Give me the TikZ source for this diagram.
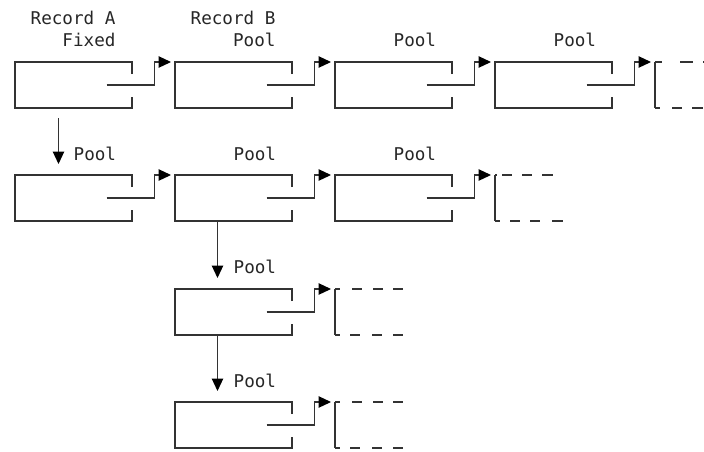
\documentclass[tikz,border=0pt]{standalone}
\usepackage{fontspec}
\setmonofont{DejaVu Sans Mono}
\usetikzlibrary{arrows.meta,calc}
\begin{document}
\begin{tikzpicture}[x=1pt,y=-1pt,
  rec/.style={minimum width=117pt,minimum height=46pt,inner sep=0pt,outer sep=0pt,anchor=north west},
  drec/.style={minimum width=68pt,minimum height=46pt,inner sep=0pt,outer sep=0pt,anchor=north west},
  lbl/.style={font=\ttfamily\fontsize{17.6}{20}\selectfont,inner sep=0pt,anchor=base west,text=black!85},
  ln/.style={line width=1.15pt,draw=black!80},
  tipstyle/.style={-{Triangle[length=12.5pt,width=11.5pt,color=black]}},
  ptr/.style={ln,tipstyle,shorten >=4pt},
  downarr/.style={ln,tipstyle},
  boxline/.style={ln}
]
\useasboundingbox (0,0) rectangle (704,451);
% solid record boxes
\node[rec] (a1) at (15,62) {};
\node[rec] (a2) at (175,62) {};
\node[rec] (a3) at (335,62) {};
\node[rec] (a4) at (495,62) {};
\node[drec] (a5) at (655,62) {};
\node[rec] (b1) at (15,175) {};
\node[rec] (b2) at (175,175) {};
\node[rec] (b3) at (335,175) {};
\node[drec] (b4) at (495,175) {};
\node[rec] (c2) at (175,289) {};
\node[drec] (c3) at (335,289) {};
\node[rec] (d2) at (175,402) {};
\node[drec] (d3) at (335,402) {};
% outlines
\foreach \n in {a1,a2,a3,a4,b1,b2,b3,c2,d2}{
  \draw[boxline] ([yshift=-12pt]\n.north east) -- (\n.north east) -- (\n.north west)
     -- (\n.south west) -- (\n.south east) -- ([yshift=11pt]\n.south east);
}
% dashed continuation boxes
\foreach \n in {a5,b4,c3,d3}{
  \draw[ln] (\n.north west) -- (\n.south west);
}
\draw[ln,dash pattern=on 7pt off 18pt on 13pt off 10pt on 10pt off 10pt] (a5.north west) -- ++(49,0);
\draw[ln,dash pattern=on 5pt off 12pt on 10pt off 10pt on 11pt off 20pt] (a5.south west) -- ++(49,0);
\draw[ln,dash pattern=on 2pt off 5pt on 10pt off 10pt on 10pt off 10pt on 11pt off 50pt] (b4.north west) -- ++(58,0);
\draw[ln,dash pattern=on 5pt off 10pt on 10pt off 10pt on 10pt off 12pt on 11pt off 50pt] (b4.south west) -- ++(68,0);
\foreach \n in {c3,d3}{
  \draw[ln,dash pattern=on 5pt off 12pt on 10pt off 11pt on 10pt off 10pt on 10pt off 50pt] (\n.north west) -- ++(68,0);
  \draw[ln,dash pattern=on 5pt off 10pt on 10pt off 12pt on 10pt off 11pt on 10pt off 50pt] (\n.south west) -- ++(68,0);
}
% pointers to next record
\foreach \x/\y in {a1/a2,a2/a3,a3/a4,a4/a5,b1/b2,b2/b3,b3/b4,c2/c3,d2/d3}{
  \draw[ptr] ([xshift=-25.5pt]\x.east) -| ([xshift=22.5pt]\x.north east) -- (\y.north west);
}
% down pointers
\draw[downarr] ([xshift=43.5pt,yshift=-10pt]a1.south west) -- ([xshift=43.5pt,yshift=11pt]b1.north west);
\draw[downarr] ([xshift=42.5pt]b2.south west) -- ([xshift=42.5pt,yshift=11pt]c2.north west);
\draw[downarr] ([xshift=42.5pt]c2.south west) -- ([xshift=42.5pt,yshift=11pt]d2.north west);
% labels
\node[lbl] (tA) at (30.5,24) {Record A};
\node[lbl,anchor=base east] (tAf) at ([yshift=-22.5pt]tA.base east) {Fixed};
\node[lbl] (tB) at (190.5,24) {Record B};
\node[lbl,anchor=base east] (tBp) at ([yshift=-22.5pt]tB.base east) {Pool};
\node[lbl] (pa3) at (393.5,46.5) {Pool};
\node[lbl] (pa4) at (553.5,46.5) {Pool};
\node[lbl] (pb1) at (73.5,160) {Pool};
\node[lbl] (pb2) at (233.5,160) {Pool};
\node[lbl] (pb3) at (393.5,160) {Pool};
\node[lbl] (pc2) at (233.5,273.5) {Pool};
\node[lbl] (pd2) at (233.5,387) {Pool};
\end{tikzpicture}
\end{document}
